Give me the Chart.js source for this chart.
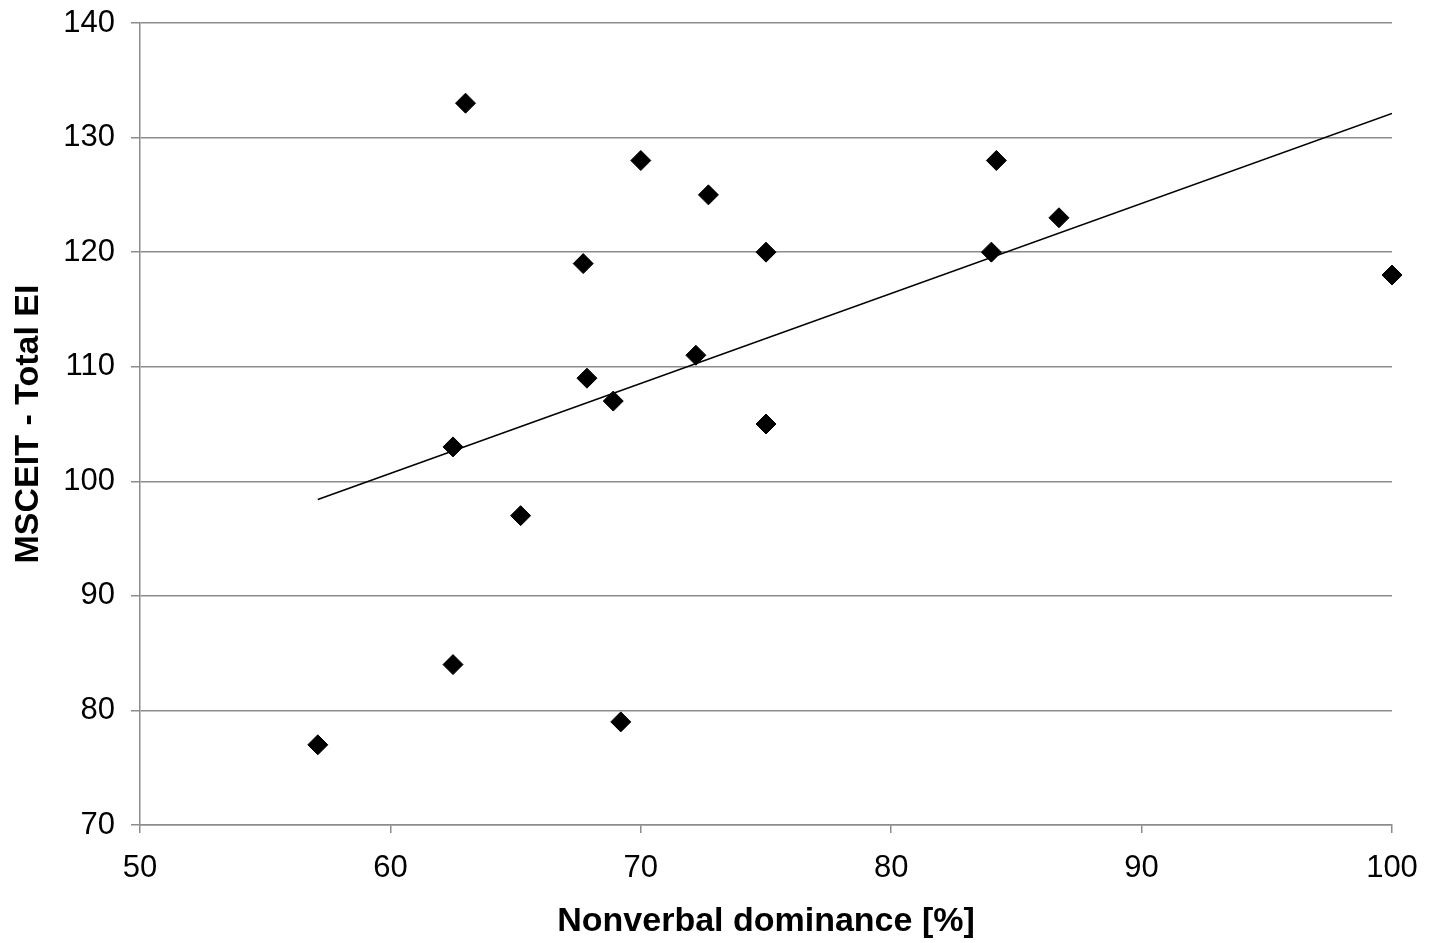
<!DOCTYPE html>
<html>
<head>
<meta charset="utf-8">
<script src="https://cdn.jsdelivr.net/npm/chart.js@4"></script>
<style>
  html, body { margin: 0; padding: 0; background: #fff; }
  #wrap { width: 1438px; height: 943px; }
</style>
</head>
<body>
<div id="wrap"><canvas id="myChart" width="1438" height="943"></canvas></div>
<script>
// values
let dominance = [63, 70, 72.7, 84.2, 86.7, 67.7, 75, 84, 100, 72.2, 67.85, 68.9, 75, 62.5, 65.2, 62.5, 69.2, 57.1]
let msceit    = [133, 128, 125, 128, 123, 119, 120, 120, 118, 111, 109, 107, 105, 103, 97, 84, 79, 77]

// trend line end points
let trendX = [57.1, 100]
let trendY = [98.4, 132.1]

let points = dominance.map(function (x, i) {
    return { x: x, y: msceit[i] }
})
let trend = trendX.map(function (x, i) {
    return { x: x, y: trendY[i] }
})

Chart.defaults.font.family = "'Liberation Sans', Arial, sans-serif"
Chart.defaults.font.size = 31
Chart.defaults.color = '#000'

let ctx = document.getElementById('myChart').getContext('2d')
let scatterChart = new Chart(ctx, {
    type: 'scatter',
    data: {
        datasets: [{
            data: points,
            pointStyle: 'rectRot',
            pointRadius: 10,
            pointHoverRadius: 10,
            backgroundColor: '#000',
            borderColor: '#000',
            borderWidth: 1,
            clip: false,
            order: 1,
        }, {
            type: 'line',
            data: trend,
            borderColor: '#000',
            borderWidth: 1.6,
            pointRadius: 0,
            fill: false,
            order: 2,
        }]
    },
    options: {
        responsive: false,
        animation: false,
        plugins: {
            legend: { display: false },
            tooltip: { enabled: false },
        },
        layout: {
            padding: { left: 0, right: 46, top: 0, bottom: 0 }
        },
        scales: {
            x: {
                type: 'linear',
                min: 50,
                max: 100,
                ticks: { stepSize: 10, padding: 17 },
                grid: {
                    drawOnChartArea: false,
                    drawTicks: true,
                    tickLength: 8,
                    color: '#8c8c8c',
                    lineWidth: 1.5,
                },
                border: { color: '#8c8c8c', width: 1.5 },
                title: {
                    display: true,
                    text: 'Nonverbal dominance [%]',
                    font: { weight: 'bold', size: 34 },
                    padding: { top: 4, bottom: 1 },
                },
                afterFit: function (axis) { axis.height = 118 },
            },
            y: {
                min: 70,
                max: 140,
                ticks: { stepSize: 10, padding: 16 },
                grid: {
                    color: '#8c8c8c',
                    lineWidth: 1.5,
                    tickLength: 9,
                },
                border: { color: '#8c8c8c', width: 1.5 },
                title: {
                    display: true,
                    text: 'MSCEIT - Total EI',
                    font: { weight: 'bold', size: 34 },
                    padding: { top: 8, bottom: 3 },
                },
                afterFit: function (axis) {
                    axis.width = 140
                    axis.paddingTop = 23
                    axis.paddingBottom = 10
                },
            },
        },
    },
})
</script>
</body>
</html>
